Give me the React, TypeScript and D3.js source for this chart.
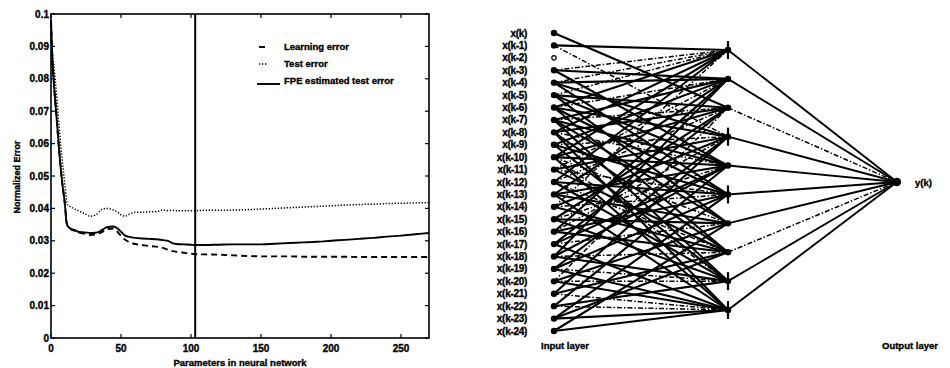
import * as d3 from 'd3'

// ---- left panel: error curves vs. number of parameters ----
const paramsX = [0, 1, 2, 4, 6, 8, 10, 11, 12, 14, 17, 20, 24, 28, 32, 36, 40, 44, 47, 50, 53, 56, 60, 65, 70, 75, 80, 84, 87, 90, 95, 100, 103, 110, 120, 130, 140, 150, 160, 170, 180, 190, 200, 210, 220, 230, 240, 250, 260, 270]
const learningError = [0.098, 0.086, 0.079, 0.068, 0.057, 0.048, 0.041, 0.036, 0.0345, 0.0336, 0.0331, 0.0325, 0.0322, 0.0318, 0.032, 0.0326, 0.0336, 0.0338, 0.033, 0.0315, 0.0303, 0.0296, 0.029, 0.0287, 0.0284, 0.0282, 0.0278, 0.0272, 0.0268, 0.0266, 0.0263, 0.026, 0.0259, 0.0258, 0.0257, 0.0255, 0.0253, 0.0252, 0.0252, 0.0252, 0.0251, 0.0251, 0.0251, 0.0251, 0.025, 0.025, 0.025, 0.025, 0.025, 0.025]
const testError = [0.092, 0.088, 0.084, 0.075, 0.064, 0.055, 0.047, 0.043, 0.041, 0.0405, 0.0398, 0.0392, 0.0384, 0.0376, 0.038, 0.0396, 0.04, 0.0396, 0.039, 0.038, 0.0376, 0.0382, 0.0388, 0.0388, 0.039, 0.039, 0.0395, 0.0393, 0.0394, 0.0393, 0.0393, 0.0393, 0.0393, 0.0394, 0.0394, 0.0395, 0.0396, 0.0398, 0.04, 0.0402, 0.0404, 0.0406, 0.0408, 0.041, 0.0412, 0.0413, 0.0415, 0.0416, 0.0417, 0.0418]
const fpeError = [0.098, 0.086, 0.079, 0.068, 0.057, 0.048, 0.041, 0.036, 0.0345, 0.0338, 0.0333, 0.0327, 0.0326, 0.0324, 0.0325, 0.0332, 0.0342, 0.0344, 0.034, 0.0328, 0.0316, 0.0312, 0.0309, 0.0307, 0.0306, 0.0305, 0.0302, 0.0299, 0.0292, 0.029, 0.0289, 0.0288, 0.0287, 0.0287, 0.0288, 0.0289, 0.0289, 0.0289, 0.0291, 0.0293, 0.0295, 0.0297, 0.03, 0.0303, 0.0306, 0.0309, 0.0313, 0.0316, 0.032, 0.0324]
const chosenParams = 103
const xTicks = [0, 50, 100, 150, 200, 250]
const yTicks = [0, 0.01, 0.02, 0.03, 0.04, 0.05, 0.06, 0.07, 0.08, 0.09, 0.1]
const legendLabels = ['Learning error', 'Test error', 'FPE estimated test error']

// ---- right panel: pruned network ----
const inputLabels = ['x(k)', 'x(k-1)', 'x(k-2)', 'x(k-3)', 'x(k-4)', 'x(k-5)', 'x(k-6)', 'x(k-7)', 'x(k-8)', 'x(k-9)', 'x(k-10)', 'x(k-11)', 'x(k-12)', 'x(k-13)', 'x(k-14)', 'x(k-15)', 'x(k-16)', 'x(k-17)', 'x(k-18)', 'x(k-19)', 'x(k-20)', 'x(k-21)', 'x(k-22)', 'x(k-23)', 'x(k-24)']
const hiddenUnits = [0, 1, 2, 3, 4, 5, 6, 7, 8, 9]
const hiddenWithBar = [0, 3, 5, 8, 9]
// [input, hidden, dashDot]
const inputLinks: [number, number, number][] = [
  [1, 0, 0], [3, 0, 1], [4, 0, 1], [5, 0, 1], [6, 0, 0], [8, 0, 0], [10, 0, 0], [12, 0, 0], [14, 0, 1],
  [3, 1, 0], [4, 1, 0], [6, 1, 1], [7, 1, 0], [9, 1, 0], [11, 1, 1], [13, 1, 0], [16, 1, 0], [18, 1, 0],
  [0, 2, 0], [5, 2, 0], [7, 2, 1], [8, 2, 0], [10, 2, 0], [12, 2, 1], [15, 2, 0], [17, 2, 0], [20, 2, 1],
  [1, 3, 1], [4, 3, 0], [6, 3, 0], [9, 3, 1], [11, 3, 0], [14, 3, 0], [16, 3, 1], [19, 3, 0], [21, 3, 0],
  [3, 4, 0], [5, 4, 0], [7, 4, 0], [8, 4, 1], [10, 4, 0], [13, 4, 0], [15, 4, 1], [17, 4, 0], [18, 4, 0], [22, 4, 0],
  [4, 5, 0], [6, 5, 0], [9, 5, 0], [11, 5, 1], [12, 5, 0], [14, 5, 1], [16, 5, 0], [19, 5, 0], [23, 5, 0],
  [5, 6, 0], [7, 6, 0], [10, 6, 1], [13, 6, 0], [15, 6, 0], [17, 6, 1], [20, 6, 0], [24, 6, 0],
  [6, 7, 0], [8, 7, 0], [11, 7, 0], [12, 7, 1], [14, 7, 0], [16, 7, 0], [18, 7, 1], [21, 7, 0], [23, 7, 0],
  [7, 8, 0], [9, 8, 0], [10, 8, 1], [12, 8, 0], [15, 8, 0], [18, 8, 0], [19, 8, 1], [20, 8, 1], [22, 8, 0],
  [8, 9, 0], [10, 9, 0], [13, 9, 0], [17, 9, 0], [19, 9, 0], [20, 9, 0], [21, 9, 1], [22, 9, 1], [23, 9, 0], [24, 9, 0],
]
const outputDashDot = [2, 7]
const unusedInput = 2

const font = "'Liberation Sans', Arial, sans-serif"
// scanned print looks heavy, thicken glyphs a bit
const heavy = { stroke: '#000', strokeWidth: 0.35 }

export default function App() {
  const x = d3.scaleLinear().domain([0, 270]).range([51, 429])
  const y = d3.scaleLinear().domain([0, 0.1]).range([338, 14])
  const line = d3
    .line<number>()
    .x((_, i) => x(paramsX[i]))
    .y((d) => y(d))
    .curve(d3.curveMonotoneX)

  const inY = d3.scalePoint<number>().domain(inputLabels.map((_, i) => i)).range([33, 331])
  const hidY = d3.scalePoint<number>().domain(hiddenUnits).range([50, 310])
  const inX = 554
  const hidX = 728
  const outX = 897
  const outY = 182

  const series = [
    { values: learningError, dash: '6 4', width: 1.9 },
    { values: testError, dash: '1.3 1.7', width: 1.5 },
    { values: fpeError, dash: undefined, width: 1.9 },
  ]

  return (
    <svg width={950} height={368} style={{ position: 'absolute', left: 0, top: 0, background: '#fff' }} fontFamily={font} fontWeight="bold">
      {/* plot frame + ticks */}
      <rect x={x(0)} y={y(0.1)} width={x(270) - x(0)} height={y(0) - y(0.1)} fill="none" stroke="#000" strokeWidth={1.6} />
      {xTicks.map((t) => (
        <g key={`xt${t}`}>
          <line x1={x(t)} x2={x(t)} y1={y(0)} y2={y(0) - 4} stroke="#000" strokeWidth={1.2} />
          <line x1={x(t)} x2={x(t)} y1={y(0.1)} y2={y(0.1) + 4} stroke="#000" strokeWidth={1.2} />
          <text x={x(t)} y={352} textAnchor="middle" fontSize={10} {...heavy}>{t}</text>
        </g>
      ))}
      {yTicks.map((t) => (
        <g key={`yt${t}`}>
          <line x1={x(0)} x2={x(0) + 4} y1={y(t)} y2={y(t)} stroke="#000" strokeWidth={1.2} />
          <line x1={x(270)} x2={x(270) - 4} y1={y(t)} y2={y(t)} stroke="#000" strokeWidth={1.2} />
          <text x={x(0) - 2} y={y(t) + 3.5} textAnchor="end" fontSize={10} {...heavy}>{t}</text>
        </g>
      ))}
      <text x={x(135)} y={366} textAnchor="middle" fontSize={9.5} {...heavy}>Parameters in neural network</text>
      <text transform={`translate(20,${177}) rotate(-90)`} textAnchor="middle" fontSize={9} {...heavy}>Normalized Error</text>

      {/* curves */}
      {series.map((s, i) => (
        <path key={`s${i}`} d={line(s.values) ?? ''} fill="none" stroke="#000" strokeWidth={s.width} strokeDasharray={s.dash} />
      ))}
      <line x1={x(chosenParams)} x2={x(chosenParams)} y1={y(0)} y2={y(0.1)} stroke="#000" strokeWidth={2} />

      {/* legend */}
      {legendLabels.map((label, i) => (
        <g key={label}>
          <line
            x1={i === 2 ? 257 : 259}
            x2={i === 2 ? 280 : 268}
            y1={47 + i * 17 + (i === 2 ? 3 : 0)}
            y2={47 + i * 17 + (i === 2 ? 3 : 0)}
            stroke="#000"
            strokeWidth={series[i].width}
            strokeDasharray={series[i].dash}
          />
          <text x={284} y={50 + i * 17} fontSize={9.5} {...heavy}>{label}</text>
        </g>
      ))}

      {/* network: input -> hidden */}
      {inputLinks.map(([a, b, dd], i) => (
        <line
          key={`l${i}`}
          x1={inX}
          y1={inY(a)}
          x2={hidX}
          y2={hidY(b)}
          stroke="#000"
          strokeWidth={dd ? 1.5 : 2.1}
          strokeDasharray={dd ? '5 2 1.5 2' : undefined}
        />
      ))}
      {/* hidden -> output */}
      {hiddenUnits.map((h) => (
        <line
          key={`o${h}`}
          x1={hidX}
          y1={hidY(h)}
          x2={outX}
          y2={outY}
          stroke="#000"
          strokeWidth={outputDashDot.includes(h) ? 1.5 : 1.9}
          strokeDasharray={outputDashDot.includes(h) ? '5 2 1.5 2' : undefined}
        />
      ))}
      {inputLabels.map((label, i) => (
        <g key={label}>
          <text x={527} y={inY(i)! + 3.5} textAnchor="end" fontSize={10} letterSpacing={-0.3} {...heavy}>{label}</text>
          {i === unusedInput ? (
            <circle cx={inX} cy={inY(i)} r={2.2} fill="none" stroke="#000" strokeWidth={1.2} />
          ) : (
            <circle cx={inX} cy={inY(i)} r={3.2} fill="#000" />
          )}
        </g>
      ))}
      {hiddenUnits.map((h) => (
        <g key={`h${h}`}>
          <circle cx={hidX} cy={hidY(h)} r={3.2} fill="#000" />
          {hiddenWithBar.includes(h) && (
            <line x1={hidX} x2={hidX} y1={hidY(h)! - 9} y2={hidY(h)! + 9} stroke="#000" strokeWidth={2.2} />
          )}
        </g>
      ))}
      <circle cx={outX} cy={outY} r={4.2} fill="#000" />
      <text x={915} y={outY + 3.5} fontSize={9.5} {...heavy}>y(k)</text>
      <text x={541} y={349} fontSize={9.5} {...heavy}>Input layer</text>
      <text x={882} y={349} fontSize={9.5} {...heavy}>Output layer</text>
    </svg>
  )
}
